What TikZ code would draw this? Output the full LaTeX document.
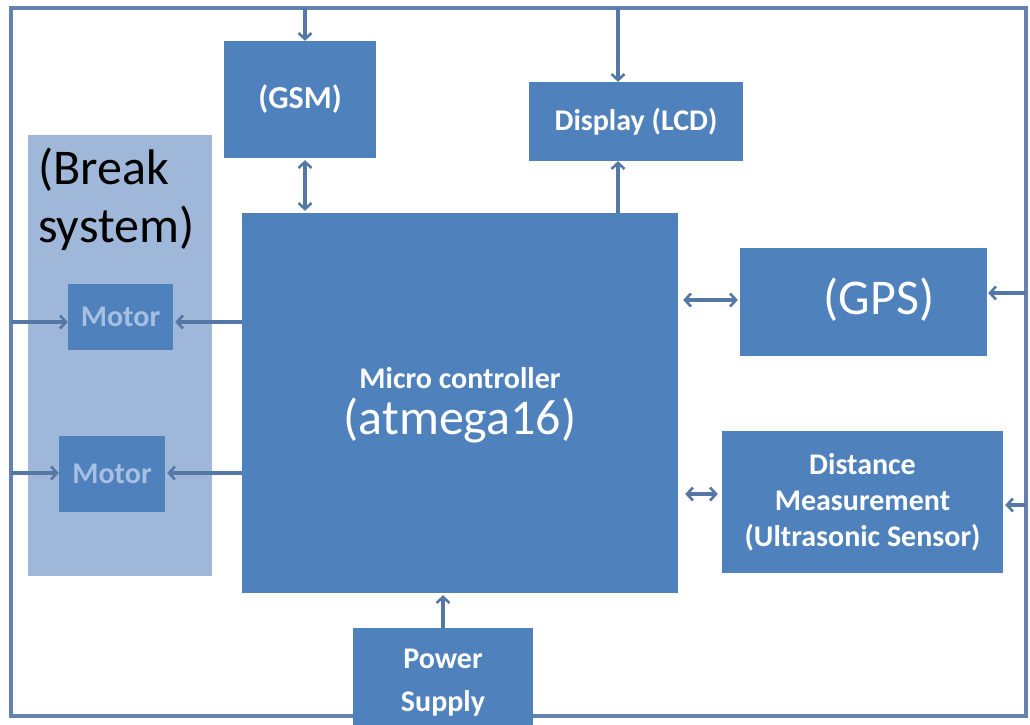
\documentclass[tikz,border=0pt]{standalone}
\usepackage{fontspec}
\setmainfont{Carlito}
\usetikzlibrary{arrows.meta}
\definecolor{boxblue}{HTML}{4F81BD}
\definecolor{panelblue}{HTML}{9FB8DA}
\definecolor{motortext}{HTML}{A7C0E2}
\definecolor{linecol}{HTML}{5577A6}
\definecolor{framecol}{HTML}{6482AD}
\tikzset{
  tip/.tip={Straight Barb[length=6pt,width=13pt,line width=2.6pt]},
  bbox/.style={fill=boxblue, draw=none, inner sep=0pt, text=white, align=center,
    font=\bfseries\fontsize{30}{36}\selectfont},
  mbox/.style={bbox, text=motortext},
  panel/.style={fill=panelblue, draw=none, inner sep=0pt},
  bigtxt/.style={inner sep=0pt, font=\fontsize{50}{58}\selectfont},
  arr/.style={draw=linecol, line width=3.2pt, -tip},
  darr/.style={draw=linecol, line width=3.2pt, tip-tip},
  frame/.style={draw=framecol, line width=3.6pt}
}
\begin{document}
\begin{tikzpicture}[x=1pt, y=-1pt]
\useasboundingbox (0,0) rectangle (1030,725);
% outer frame
\draw[frame] (11,8) rectangle (1026,716);
% break system panel
\node[panel, minimum width=184pt, minimum height=441pt] (brk) at (120,355.5) {};
\node[bigtxt, anchor=west, align=left] (brktxt) at (38,199) {(Break\\system)};
% boxes
\node[bbox, minimum width=152pt, minimum height=117pt] (gsm) at (300,99.5) {\fontsize{32}{36}\selectfont(GSM)};
\node[bbox, minimum width=214pt, minimum height=79pt] (lcd) at (636,121.5) {Display (LCD)};
\node[mbox, minimum width=105pt, minimum height=66pt] (m1) at (120.5,317) {Motor};
\node[mbox, minimum width=106pt, minimum height=76pt] (m2) at (112,474) {Motor};
\node[bbox, minimum width=436pt, minimum height=380pt] (mcu) at (460,403) {};
\node[bbox, inner sep=0pt] (mcut1) at (460,378) {Micro controller};
\node[bigtxt, text=white] (mcut2) at (460,421) {(atmega16)};
\node[bbox, minimum width=247pt, minimum height=108pt] (gps) at (863.5,302) {};
\node[bigtxt, text=white] (gpst) at (879,300) {(GPS)};
\node[bbox, minimum width=281pt, minimum height=142pt] (dist) at (862.5,502) {Distance\\Measurement\\(Ultrasonic Sensor)};
\node[bbox, minimum width=180pt, minimum height=97pt] (pwr) at (443,676.5) {};
\node[bbox, font=\bfseries\fontsize{30}{43}\selectfont] (pwrt) at (443,683) {Power\\Supply};
% frame coordinates
\coordinate (T1) at (305,8);
\coordinate (T2) at (618,8);
\coordinate (L1) at (11,322);
\coordinate (L2) at (11,473);
\coordinate (R1) at (1026,293);
\coordinate (R2) at (1026,505);
\coordinate (C1) at (700,300);
\coordinate (C2) at (700,494);
% connectors from frame
\draw[arr] (T1) -- (T1 |- gsm.north);
\draw[arr] (T2) -- (T2 |- lcd.north);
\draw[arr] (L1) -- (L1 -| m1.west);
\draw[arr] (L2) -- (L2 -| m2.west);
\draw[arr, shorten >=1pt] (R1) -- (R1 -| gps.east);
\draw[arr, shorten >=2pt] (R2) -- (R2 -| dist.east);
% connectors from micro controller
\draw[darr, shorten <=2pt, shorten >=2pt] (T1 |- gsm.south) -- (T1 |- mcu.north);
\draw[arr] (T2 |- mcu.north) -- (T2 |- lcd.south);
\draw[arr, shorten >=2pt] (L1 -| mcu.west) -- (L1 -| m1.east);
\draw[arr, shorten >=2pt] (L2 -| mcu.west) -- (L2 -| m2.east);
\draw[darr, shorten <=5pt, shorten >=2pt] (C1 -| mcu.east) -- (C1 -| gps.west);
\draw[darr, shorten <=7pt, shorten >=4pt] (C2 -| mcu.east) -- (C2 -| dist.west);
\draw[arr, shorten >=2pt] (pwr.north) -- (pwr.north |- mcu.south);
\end{tikzpicture}
\end{document}
